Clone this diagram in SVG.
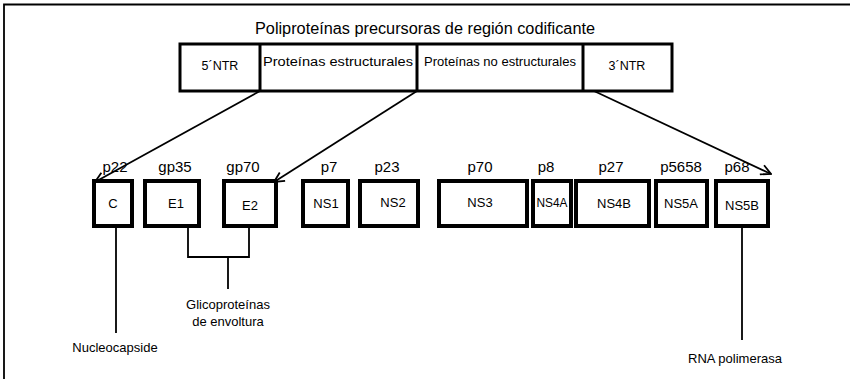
<svg xmlns="http://www.w3.org/2000/svg" width="850" height="379" viewBox="0 0 850 379">
<defs>
<marker id="arr" markerWidth="12" markerHeight="12" refX="11" refY="6" orient="auto" markerUnits="userSpaceOnUse">
<path d="M1,1 L11,6 L1,11" fill="none" stroke="#000" stroke-width="1.8"/>
</marker>
<style>
text{font-family:"Liberation Sans",Arial,sans-serif;fill:#000;text-anchor:middle}
.box{fill:#fff;stroke:#000;stroke-width:4}
.bar{fill:#fff;stroke:#000;stroke-width:3}
.ln{fill:none;stroke:#000;stroke-width:1.8}
.t{font-size:16px}
.b{font-size:12.5px}
.p{font-size:15px}
.n{font-size:13px}
</style>
</defs>
<rect width="850" height="379" fill="#fff"/>
<g id="frame"><path d="M4,379 V4.5 H850" class="ln" stroke-width="2"/></g>
<g id="title"><text class="t" x="425" y="34" textLength="340" lengthAdjust="spacingAndGlyphs">Poliproteínas precursoras de región codificante</text></g>
<g id="bar">
<rect class="bar" x="180" y="44" width="492" height="47"/>
<line class="bar" x1="260" y1="44" x2="260" y2="91"/>
<line class="bar" x1="417" y1="44" x2="417" y2="91"/>
<line class="bar" x1="583" y1="44" x2="583" y2="91"/>
<text class="b" x="220" y="70">5´NTR</text>
<text class="b" x="338" y="66" textLength="150" lengthAdjust="spacingAndGlyphs">Proteínas estructurales</text>
<text class="b" x="500" y="66" textLength="152" lengthAdjust="spacingAndGlyphs">Proteínas no estructurales</text>
<text class="b" x="627" y="70">3´NTR</text>
</g>
<g id="connectors">
<line class="ln" x1="260" y1="91" x2="95" y2="182" marker-end="url(#arr)"/>
<line class="ln" x1="417" y1="91" x2="274" y2="182" marker-end="url(#arr)"/>
<line class="ln" x1="594" y1="91" x2="771" y2="174" marker-end="url(#arr)"/>
<line class="ln" x1="116" y1="226" x2="116" y2="333"/>
<path class="ln" d="M188,226 V257 H249 V226 M228,257 V289"/>
<line class="ln" x1="742" y1="226" x2="742" y2="340"/>
</g>
<g id="C"><rect class="box" x="94" y="181" width="38" height="45"/><text class="n" x="113" y="208">C</text><text class="p" x="115" y="172">p22</text></g>
<g id="E1"><rect class="box" x="145" y="181" width="54" height="45"/><text class="n" x="176" y="208">E1</text><text class="p" x="175" y="172">gp35</text></g>
<g id="E2"><rect class="box" x="224" y="181" width="52" height="45"/><text class="n" x="250" y="210">E2</text><text class="p" x="243" y="172">gp70</text></g>
<g id="NS1"><rect class="box" x="303" y="181" width="45" height="45"/><text class="n" x="326" y="208">NS1</text><text class="p" x="329" y="172">p7</text></g>
<g id="NS2"><rect class="box" x="360" y="181" width="58" height="45"/><text class="n" x="393" y="207">NS2</text><text class="p" x="387" y="172">p23</text></g>
<g id="NS3"><rect class="box" x="439" y="181" width="88" height="45"/><text class="n" x="480" y="207">NS3</text><text class="p" x="480" y="172">p70</text></g>
<g id="NS4A"><rect class="box" x="533" y="181" width="38" height="45"/><text class="n" x="552" y="207" textLength="31" lengthAdjust="spacingAndGlyphs">NS4A</text><text class="p" x="546" y="172">p8</text></g>
<g id="NS4B"><rect class="box" x="576" y="181" width="73" height="45"/><text class="n" x="614" y="208">NS4B</text><text class="p" x="611" y="172">p27</text></g>
<g id="NS5A"><rect class="box" x="656" y="181" width="51" height="45"/><text class="n" x="681" y="208">NS5A</text><text class="p" x="681" y="172">p5658</text></g>
<g id="NS5B"><rect class="box" x="716" y="181" width="52" height="45"/><text class="n" x="742" y="210">NS5B</text><text class="p" x="737" y="172">p68</text></g>
<g id="labels">
<text class="n" x="115" y="352">Nucleocapside</text>
<text class="n" x="228" y="309">Glicoproteínas</text>
<text class="n" x="228" y="326">de envoltura</text>
<text class="n" x="735" y="363">RNA polimerasa</text>
</g>
</svg>
